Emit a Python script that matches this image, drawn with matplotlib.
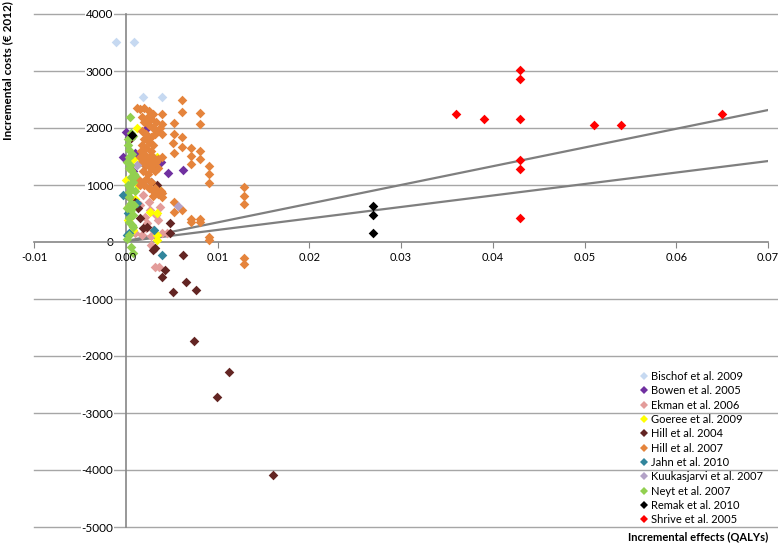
import matplotlib
matplotlib.use('Agg')
import matplotlib.pyplot as plt
import matplotlib.ticker as ticker
from matplotlib.lines import Line2D

plt.rcParams['font.family'] = ['Lato', 'DejaVu Sans']

# ---- data ----
bischof_x = [-0.0011, 0.0009, 0.0019, 0.0039]
bischof_y = [3510, 3510, 2545, 2545]

bowen_x = [0.0000, -0.0003, 0.0023, 0.0038, 0.0046, 0.0062, 0.0008, 0.0010, 0.0030, 0.0003]
bowen_y = [1930, 1490, 2000, 1400, 1210, 1255, 1250, 1560, 1300, 1850]

ekman_x = [0.0019, 0.0037, 0.0026, 0.0021, 0.0035, 0.0023, 0.0030, 0.0015, 0.0025, 0.0040,
           0.0032, 0.0030, 0.0028, 0.0033, 0.0010, 0.0018, 0.0045, 0.0022, 0.0027, 0.0036]
ekman_y = [825, 614, 561, 439, 386, 333, 210, 650, 700, 150,
           -440, -88, 100, 480, 150, 120, 150, 250, -50, -430]

goeree_x = [0.0012, 0.0034, 0.0000, 0.0013, 0.0034, 0.0026, 0.0034, 0.0002, 0.0002, 0.0008,
            0.0034, 0.0034, 0.0014, 0.0008, 0.0005, 0.0010]
goeree_y = [2000, 1490, 1090, 1000, 947, 526, 509, 614, 386, 210,
            123, 35, 1386, 1450, 1280, 760]

hill04_x = [0.0062, 0.0043, 0.0040, 0.0051, 0.0066, 0.0077, 0.0074, 0.0113, 0.0099, 0.0160,
            0.0030, 0.0032, 0.0010, 0.0013, 0.0023, 0.0048, 0.0019, 0.0016, 0.0004, 0.0006,
            0.0034, 0.0021, 0.0048, 0.0028]
hill04_y = [-228, -491, -614, -877, -702, -842, -1737, -2281, -2719, -4088,
            -140, -100, 702, 596, 263, 333, 245, 421, 790, 1825,
            1000, 1350, 158, 1050]

hill07_x = [0.0061, 0.0061, 0.0081, 0.0081, 0.0040, 0.0040, 0.0040, 0.0053, 0.0053, 0.0052,
            0.0061, 0.0061, 0.0053, 0.0071, 0.0071, 0.0071, 0.0081, 0.0081, 0.0091, 0.0091,
            0.0091, 0.0129, 0.0129, 0.0129, 0.0071, 0.0071, 0.0081, 0.0081, 0.0091, 0.0091,
            0.0129, 0.0129, 0.0053, 0.0053, 0.0061, 0.0040, 0.0040,
            0.0015, 0.0020, 0.0025, 0.0030, 0.0018, 0.0023, 0.0028, 0.0033, 0.0020, 0.0025,
            0.0030, 0.0035, 0.0018, 0.0022, 0.0027, 0.0032, 0.0020, 0.0025, 0.0030, 0.0018,
            0.0022, 0.0027, 0.0017, 0.0020, 0.0025, 0.0030, 0.0035, 0.0015, 0.0020, 0.0025,
            0.0030, 0.0035, 0.0018, 0.0022, 0.0027, 0.0032, 0.0028, 0.0033, 0.0013, 0.0017,
            0.0020, 0.0025, 0.0030, 0.0035, 0.0015, 0.0022, 0.0027, 0.0032, 0.0038, 0.0030,
            0.0012, 0.0037, 0.0040, 0.0024, 0.0019]
hill07_y = [2490, 2280, 2263, 2070, 2245, 2070, 1895, 2088, 1895, 1737,
            1842, 1667, 1561, 1649, 1509, 1368, 1596, 1456, 1333, 1193,
            1035, 965, 807, 667, 403, 350, 403, 350, 88, 35,
            -281, -386, 702, 526, 561, 860, 790,
            2330, 2350, 2300, 2250, 2200, 2180, 2150, 2100, 2100, 2050,
            2000, 1950, 1950, 1900, 1850, 1900, 1800, 1750, 1700, 1700,
            1650, 1600, 1600, 1550, 1500, 1500, 1450, 1500, 1450, 1400,
            1350, 1300, 1400, 1350, 1300, 1250, 1450, 1400, 1100, 1050,
            1000, 950, 900, 850, 1000, 1100, 1050, 950, 900, 800,
            2350, 2000, 1500, 1200, 1250]

jahn_x = [-0.0003, 0.0012, 0.0002, 0.0039, 0.0031, 0.0001, 0.0004]
jahn_y = [825, 684, 509, -228, 210, 123, 158]

kuuk_x = [0.0057, 0.0012]
kuuk_y = [640, 1350]

neyt_x = [0.0005, 0.0006, 0.0008, 0.0004, 0.0004, 0.0005, 0.0006, 0.0006, 0.0008, 0.0004,
          0.0004, 0.0006, 0.0006, 0.0008, 0.0004, 0.0008, 0.0004, 0.0006, 0.0008, 0.0001,
          0.0002, 0.0010, 0.0009, 0.0002, 0.0007, 0.0003, 0.0009, 0.0001, 0.0005, 0.0003,
          0.0007, 0.0002, 0.0010, 0.0001]
neyt_y = [2190, 1912, 1860, 1614, 1500, 1350, 1270, 1140, 1050, 877,
          790, 680, 560, 474, 350, 263, 123, -88, -193, 1400,
          1000, 900, 1200, 1700, 1550, 1300, 650, 600, 950, 420,
          300, 1800, 1150, 50]

remak_x = [0.027, 0.027, 0.027, 0.0007]
remak_y = [630, 480, 150, 1880]

shrive_x = [0.036, 0.039, 0.043, 0.043, 0.043, 0.043, 0.043, 0.043, 0.051, 0.054, 0.065]
shrive_y = [2240, 2150, 3020, 2860, 2150, 1440, 1280, 420, 2060, 2060, 2240]

line_x = [0.0, 0.07]
line_upper = [15, 2315]
line_lower = [10, 1420]

series = [
    ("Bischof et al. 2009", bischof_x, bischof_y, '#c6d9f1'),
    ("Bowen et al. 2005", bowen_x, bowen_y, '#7030a0'),
    ("Ekman et al. 2006", ekman_x, ekman_y, '#e39c9a'),
    ("Goeree et al. 2009", goeree_x, goeree_y, '#ffff00'),
    ("Hill et al. 2004", hill04_x, hill04_y, '#632523'),
    ("Hill et al. 2007", hill07_x, hill07_y, '#e5843c'),
    ("Jahn et al. 2010", jahn_x, jahn_y, '#31859c'),
    ("Kuukasjarvi et al. 2007", kuuk_x, kuuk_y, '#b3a2c7'),
    ("Neyt et al. 2007", neyt_x, neyt_y, '#92d050'),
    ("Remak et al. 2010", remak_x, remak_y, '#000000'),
    ("Shrive et al. 2005", shrive_x, shrive_y, '#ff0000'),
]

fig = plt.figure(figsize=(7.78, 5.44), dpi=100)
ax = fig.add_axes([34/778, 17/544, (768-34)/778, (530-17)/544])
ax.set_xlim(-0.01, 0.07)
ax.set_ylim(-5000, 4000)

# horizontal gridlines running to the right edge
for yv in range(-5000, 4001, 1000):
    if yv == 0:
        continue
    ax.axhline(yv, xmin=0, xmax=1.0136, color='#a6a6a6', lw=1, zorder=0, clip_on=False)

for spine in ('top', 'right'):
    ax.spines[spine].set_visible(False)
ax.spines['left'].set_position(('data', 0))
ax.spines['bottom'].set_position(('data', 0))
ax.spines['left'].set_color('#868686')
ax.spines['bottom'].set_color('#868686')
ax.spines['left'].set_linewidth(1.2)
ax.spines['bottom'].set_linewidth(1.2)

ax.xaxis.set_major_locator(ticker.MultipleLocator(0.01))
ax.xaxis.set_major_formatter(ticker.FormatStrFormatter('%.2f'))
ax.yaxis.set_major_locator(ticker.MultipleLocator(1000))
ax.yaxis.set_major_formatter(ticker.FormatStrFormatter('%d'))
ax.tick_params(axis='x', direction='out', length=4, color='#868686', labelsize=8, pad=3)
ax.tick_params(axis='y', length=0, labelsize=8.5, pad=9)
ax.xaxis.set_zorder(4)
for lbl in ax.get_yticklabels():
    lbl.set_bbox(dict(facecolor='white', edgecolor='none', pad=0.5))

ax.plot(line_x, line_upper, color='#7f7f7f', lw=1.6, zorder=2)
ax.plot(line_x, line_lower, color='#7f7f7f', lw=1.6, zorder=2)

for name, xs, ys, col in series:
    ax.scatter(xs, ys, marker='D', s=24, color=col, linewidths=0, zorder=3, label=name)

handles = [Line2D([], [], marker='D', ls='none', markersize=4, color=c, markeredgewidth=0)
           for _, _, _, c in series]
fig.legend(handles, [s[0] for s in series], loc='upper left',
           bbox_to_anchor=(641/778, 1 - 371/544), frameon=False, fontsize=8,
           handlelength=0.6, handletextpad=0.3, labelspacing=0.3, borderaxespad=0,
           borderpad=0)

fig.text(768/778, 1 - 537/544, "Incremental effects (QALYs)", ha='right', va='center',
         fontsize=8, fontweight='bold')
fig.text(8/778, 1 - 1/544, "Incremental costs (\u20ac 2012)", ha='center', va='top',
         rotation=90, fontsize=8.5, fontweight='bold')

fig.savefig("out.png", dpi=100)
